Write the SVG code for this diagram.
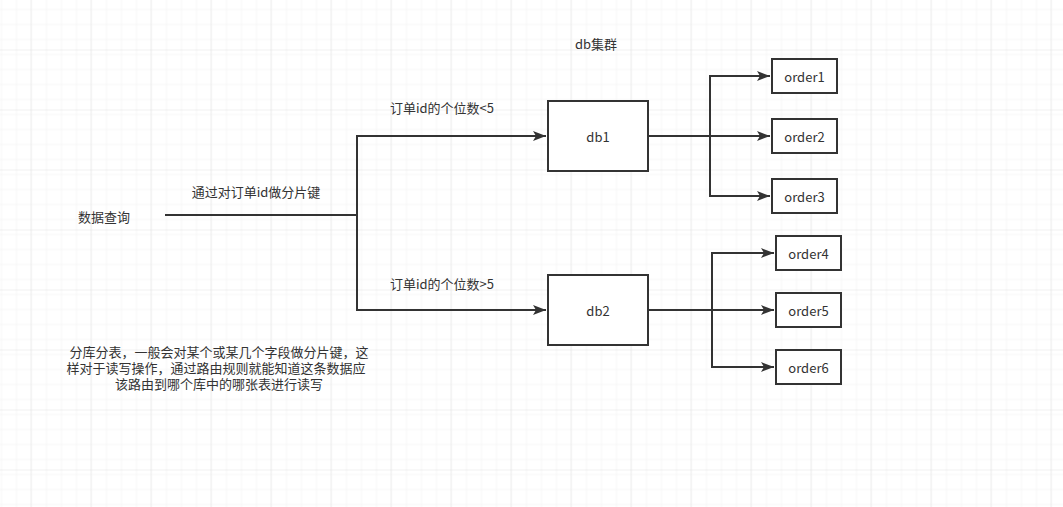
<svg xmlns="http://www.w3.org/2000/svg" width="1063" height="507" viewBox="0 0 1063 507">
<defs>
<pattern id="gs" x="0.5" y="4.5" width="15" height="15" patternUnits="userSpaceOnUse">
<path d="M0 0H15M0 0V15" fill="none" stroke="#f0f0f0" stroke-width="1"/>
</pattern>
<pattern id="gl" x="30.5" y="49.5" width="60" height="60" patternUnits="userSpaceOnUse">
<rect width="60" height="60" fill="url(#gs)"/>
<path d="M0 0H60M0 0V60" fill="none" stroke="#e2e2e2" stroke-width="1"/>
</pattern>
<marker id="arr" viewBox="0 0 13 10" refX="13" refY="5" markerWidth="13" markerHeight="10" markerUnits="userSpaceOnUse" orient="auto">
<path d="M0 0L13 5L0 10L3 5Z" fill="#333"/>
</marker>
<style>
text{font-family:"Noto Sans CJK SC","Liberation Sans",sans-serif;font-size:13px;fill:#333;text-anchor:middle;dominant-baseline:central}
.box{fill:#fff;stroke:#333;stroke-width:2}
.ln{fill:none;stroke:#333;stroke-width:2}
</style>
</defs>
<rect width="1063" height="507" fill="#fff"/>
<rect width="1063" height="507" fill="url(#gl)"/>
<g id="connectors">
<path class="ln" d="M165 215H357"/>
<path class="ln" d="M357 215V136H546" marker-end="url(#arr)"/>
<path class="ln" d="M357 215V310H546" marker-end="url(#arr)"/>
<path class="ln" d="M648 136H770" marker-end="url(#arr)"/>
<path class="ln" d="M710 136V76H770" marker-end="url(#arr)"/>
<path class="ln" d="M710 136V196H770" marker-end="url(#arr)"/>
<path class="ln" d="M648 310H774" marker-end="url(#arr)"/>
<path class="ln" d="M712 310V253H774" marker-end="url(#arr)"/>
<path class="ln" d="M712 310V367H774" marker-end="url(#arr)"/>
</g>
<g id="label-query"><text x="104" y="216">数据查询</text></g>
<g id="label-shard"><text x="256" y="191">通过对订单id做分片键</text></g>
<g id="label-lt5"><text x="442" y="107">订单id的个位数&lt;5</text></g>
<g id="label-gt5"><text x="442" y="283">订单id的个位数&gt;5</text></g>
<g id="label-cluster"><text x="596" y="43">db集群</text></g>
<g id="db1"><rect class="box" x="548" y="101" width="100" height="70"/><text x="598" y="136">db1</text></g>
<g id="db2"><rect class="box" x="548" y="275" width="100" height="70"/><text x="598" y="310">db2</text></g>
<g id="order1"><rect class="box" x="772" y="59" width="65" height="34"/><text x="804.5" y="76">order1</text></g>
<g id="order2"><rect class="box" x="772" y="119" width="65" height="34"/><text x="804.5" y="136">order2</text></g>
<g id="order3"><rect class="box" x="772" y="179" width="65" height="34"/><text x="804.5" y="196">order3</text></g>
<g id="order4"><rect class="box" x="776" y="236" width="65" height="34"/><text x="808.5" y="253">order4</text></g>
<g id="order5"><rect class="box" x="776" y="293" width="65" height="34"/><text x="808.5" y="310">order5</text></g>
<g id="order6"><rect class="box" x="776" y="350" width="65" height="34"/><text x="808.5" y="367">order6</text></g>
<g id="note">
<text x="219" y="351"><tspan x="219" y="351">分库分表，一般会对某个或某几个字段做分片键，这</tspan><tspan x="216" y="367">样对于读写操作，通过路由规则就能知道这条数据应</tspan><tspan x="219" y="383">该路由到哪个库中的哪张表进行读写</tspan></text>
</g>
</svg>
